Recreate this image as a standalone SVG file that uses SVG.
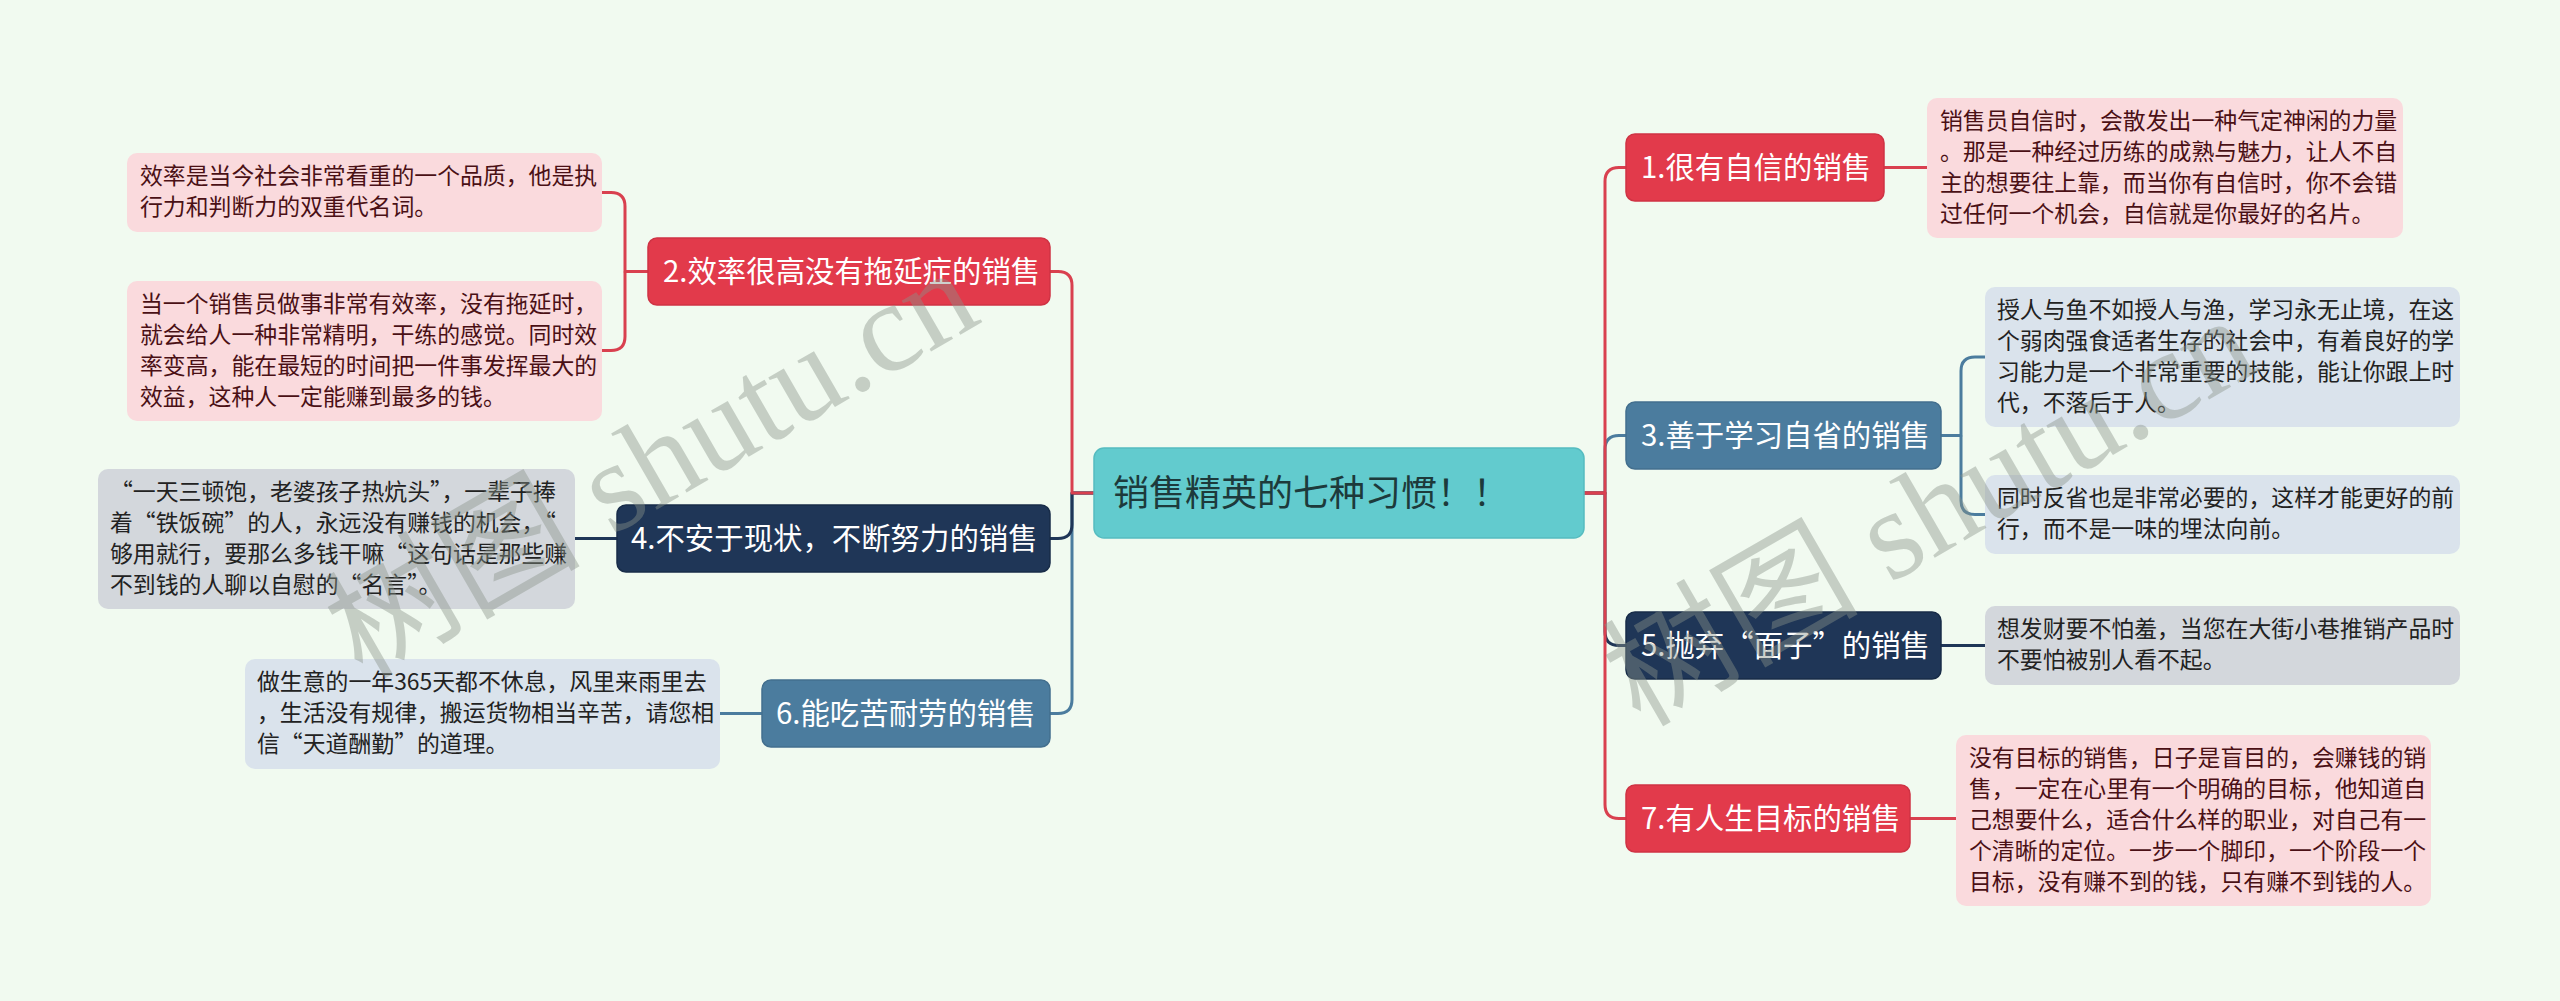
<svg xmlns="http://www.w3.org/2000/svg" width="2560" height="1001" viewBox="0 0 2560 1001">
<style>
.bg{fill:#f1faf0}
.red{fill:#e23a4b;stroke:#cf3344;stroke-width:1.5}
.blue{fill:#4b7c9e;stroke:#436f8e;stroke-width:1.5}
.navy{fill:#1f3657;stroke:#182c48;stroke-width:1.5}
.pink{fill:#fadadd}
.grey{fill:#d3d7dc}
.lblue{fill:#dae3ec}
.nt{font-family:"Noto Sans CJK SC","Noto Sans",sans-serif;font-size:29.4px;fill:#ffffff}
.lt{font-family:"Noto Sans CJK SC","Noto Sans",sans-serif;font-size:22.86px;fill:#222222}
.lt.pk{fill:#4a1015}
.ct{font-family:"Noto Sans CJK SC","Noto Sans",sans-serif;font-size:36px;fill:#1d3a3b}
.c{fill:none;stroke-width:3;stroke-linejoin:round}
.cr{stroke:#d9404f}
.cb{stroke:#4b7c9e}
.cn{stroke:#1f3657}
.wm{font-family:"Liberation Serif","Noto Sans CJK SC",serif;font-size:128px;fill:#8a948a;opacity:0.42}
</style>
<rect class="bg" x="0" y="0" width="2560" height="1001"/>
<g id="connectors">
<path class="c cb" d="M1094,493 H1072 V699.5 Q1072,713.5 1058,713.5 H1050"/>
<path class="c cn" d="M1094,493 H1072 V524.5 Q1072,538.5 1058,538.5 H1050"/>
<path class="c cr" d="M1094,493 H1072 V285.5 Q1072,271.5 1058,271.5 H1050"/>
<path class="c cr" d="M648,271.5 H625 V206.5 Q625,192.5 611,192.5 H602"/>
<path class="c cr" d="M625,271.5 V336.5 Q625,350.5 611,350.5 H602"/>
<path class="c cn" d="M617,538.5 H575"/>
<path class="c cb" d="M762,713.5 H720"/>
<path class="c cb" d="M1584,493 H1605 V449.5 Q1605,435.5 1619,435.5 H1626"/>
<path class="c cn" d="M1584,493 H1605 V631.5 Q1605,645.5 1619,645.5 H1626"/>
<path class="c cr" d="M1584,493 H1605 V181.5 Q1605,167.5 1619,167.5 H1626"/>
<path class="c cr" d="M1584,493 H1605 V804.5 Q1605,818.5 1619,818.5 H1626"/>
<path class="c cr" d="M1884,167.5 H1927"/>
<path class="c cb" d="M1941,435.5 H1961 V371 Q1961,357 1975,357 H1985"/>
<path class="c cb" d="M1961,435.5 V500.5 Q1961,514.5 1975,514.5 H1985"/>
<path class="c cn" d="M1941,645.5 H1985"/>
<path class="c cr" d="M1910,818.5 H1956"/>
</g>
<g id="center">
<rect x="1094" y="448" width="490" height="90" rx="10" fill="#62cbce" stroke="#56bcc0" stroke-width="1.5"/>
<text class="ct" x="1113" y="506">销售精英的七种习惯！！</text>
</g>
<g id="n2">
<rect class="red" x="648" y="238" width="402" height="67" rx="9"/>
<text class="nt" x="663" y="282">2.效率很高没有拖延症的销售</text>
</g>
<g id="n2a">
<rect class="pink" x="127" y="153" width="475" height="79" rx="10"/>
<text class="lt pk" x="140" y="184">效率是当今社会非常看重的一个品质，他是执</text>
<text class="lt pk" x="140" y="215">行力和判断力的双重代名词。</text>
</g>
<g id="n2b">
<rect class="pink" x="127" y="281" width="475" height="140" rx="10"/>
<text class="lt pk" x="140" y="312">当一个销售员做事非常有效率，没有拖延时，</text>
<text class="lt pk" x="140" y="343">就会给人一种非常精明，干练的感觉。同时效</text>
<text class="lt pk" x="140" y="374">率变高，能在最短的时间把一件事发挥最大的</text>
<text class="lt pk" x="140" y="405">效益，这种人一定能赚到最多的钱。</text>
</g>
<g id="n4">
<rect class="navy" x="617" y="505" width="433" height="67" rx="9"/>
<text class="nt" x="631" y="549">4.不安于现状，不断努力的销售</text>
</g>
<g id="n4a">
<rect class="grey" x="98" y="469" width="477" height="140" rx="10"/>
<text class="lt" x="110" y="500">“一天三顿饱，老婆孩子热炕头”，一辈子捧</text>
<text class="lt" x="110" y="531">着“铁饭碗”的人，永远没有赚钱的机会，“</text>
<text class="lt" x="110" y="562">够用就行，要那么多钱干嘛“这句话是那些赚</text>
<text class="lt" x="110" y="593">不到钱的人聊以自慰的“名言”。</text>
</g>
<g id="n6">
<rect class="blue" x="762" y="680" width="288" height="67" rx="9"/>
<text class="nt" x="776" y="724">6.能吃苦耐劳的销售</text>
</g>
<g id="n6a">
<rect class="lblue" x="245" y="659" width="475" height="110" rx="10"/>
<text class="lt" x="257" y="690">做生意的一年365天都不休息，风里来雨里去</text>
<text class="lt" x="257" y="721">，生活没有规律，搬运货物相当辛苦，请您相</text>
<text class="lt" x="257" y="752">信“天道酬勤”的道理。</text>
</g>
<g id="n1">
<rect class="red" x="1626" y="134" width="258" height="67" rx="9"/>
<text class="nt" x="1641" y="178">1.很有自信的销售</text>
</g>
<g id="n1a">
<rect class="pink" x="1927" y="98" width="476" height="140" rx="10"/>
<text class="lt pk" x="1940" y="129">销售员自信时，会散发出一种气定神闲的力量</text>
<text class="lt pk" x="1940" y="160">。那是一种经过历练的成熟与魅力，让人不自</text>
<text class="lt pk" x="1940" y="191">主的想要往上靠，而当你有自信时，你不会错</text>
<text class="lt pk" x="1940" y="222">过任何一个机会，自信就是你最好的名片。</text>
</g>
<g id="n3">
<rect class="blue" x="1626" y="402" width="315" height="67" rx="9"/>
<text class="nt" x="1641" y="446">3.善于学习自省的销售</text>
</g>
<g id="n3a">
<rect class="lblue" x="1985" y="287" width="475" height="140" rx="10"/>
<text class="lt" x="1997" y="318">授人与鱼不如授人与渔，学习永无止境，在这</text>
<text class="lt" x="1997" y="349">个弱肉强食适者生存的社会中，有着良好的学</text>
<text class="lt" x="1997" y="380">习能力是一个非常重要的技能，能让你跟上时</text>
<text class="lt" x="1997" y="411">代，不落后于人。</text>
</g>
<g id="n3b">
<rect class="lblue" x="1985" y="475" width="475" height="79" rx="10"/>
<text class="lt" x="1997" y="506">同时反省也是非常必要的，这样才能更好的前</text>
<text class="lt" x="1997" y="537">行，而不是一味的埋汰向前。</text>
</g>
<g id="n5">
<rect class="navy" x="1626" y="612" width="315" height="67" rx="9"/>
<text class="nt" x="1641" y="656">5.抛弃“面子”的销售</text>
</g>
<g id="n5a">
<rect class="grey" x="1985" y="606" width="475" height="79" rx="10"/>
<text class="lt" x="1997" y="637">想发财要不怕羞，当您在大街小巷推销产品时</text>
<text class="lt" x="1997" y="668">不要怕被别人看不起。</text>
</g>
<g id="n7">
<rect class="red" x="1626" y="785" width="284" height="67" rx="9"/>
<text class="nt" x="1641" y="829">7.有人生目标的销售</text>
</g>
<g id="n7a">
<rect class="pink" x="1956" y="735" width="475" height="171" rx="10"/>
<text class="lt pk" x="1969" y="766">没有目标的销售，日子是盲目的，会赚钱的销</text>
<text class="lt pk" x="1969" y="797">售，一定在心里有一个明确的目标，他知道自</text>
<text class="lt pk" x="1969" y="828">己想要什么，适合什么样的职业，对自己有一</text>
<text class="lt pk" x="1969" y="859">个清晰的定位。一步一个脚印，一个阶段一个</text>
<text class="lt pk" x="1969" y="890">目标，没有赚不到的钱，只有赚不到钱的人。</text>
</g>
<g id="watermarks">
<text class="wm" transform="translate(362,680) rotate(-30)">树图 shutu.cn</text>
<text class="wm" transform="translate(1640,728) rotate(-30)">树图 shutu.cn</text>
</g>
</svg>
